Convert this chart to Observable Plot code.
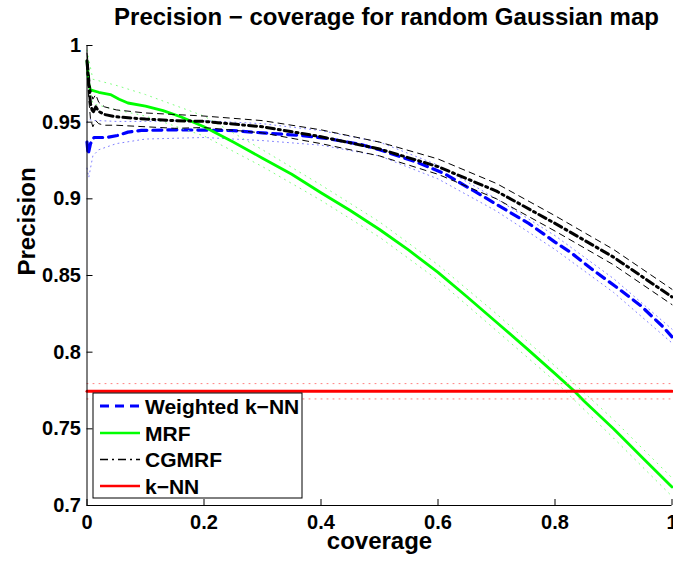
<!DOCTYPE html>
<html><head><meta charset="utf-8">
<script src="https://cdn.jsdelivr.net/npm/d3@7"></script>
<script src="https://cdn.jsdelivr.net/npm/@observablehq/plot@0.6"></script>
<style>
body{margin:0;background:#fff;}
#chart{position:relative;width:673px;height:561px;overflow:hidden;}
</style></head><body><div id="chart"></div>
<script>
const titleText = "Precision − coverage for random Gaussian map";
const xLabel = "coverage";
const yLabel = "Precision";
const xTicks = [0, 0.2, 0.4, 0.6, 0.8, 1];
const xTickLabels = ["0", "0.2", "0.4", "0.6", "0.8", "1"];
const yTicks = [0.7, 0.75, 0.8, 0.85, 0.9, 0.95, 1];
const yTickLabels = ["0.7", "0.75", "0.8", "0.85", "0.9", "0.95", "1"];
const seriesNames = ["Weighted k−NN", "MRF", "CGMRF", "k−NN"];

// Weighted k-NN
const wknnX = [0, 0.002, 0.006, 0.012, 0.033, 0.052, 0.07, 0.093, 0.15, 0.2, 0.25, 0.3, 0.365, 0.41, 0.468, 0.5, 0.565, 0.61, 0.66, 0.703, 0.755, 0.8, 0.826, 0.866, 0.903, 0.946, 0.985, 1.0];
const wknnY = [0.937, 0.929, 0.936, 0.940, 0.940, 0.9413, 0.9435, 0.9446, 0.945, 0.9448, 0.9445, 0.943, 0.9413, 0.9394, 0.9355, 0.932, 0.9237, 0.9166, 0.9055, 0.8957, 0.884, 0.8718, 0.8653, 0.8533, 0.843, 0.8305, 0.8164, 0.81];
const wknnBandX = [0, 0.003, 0.01, 0.02, 0.05, 0.1, 0.2, 0.3, 0.4, 0.5, 0.6, 0.7, 0.8, 0.9, 1.0];
const wknnUpper = [0.950, 0.952, 0.951, 0.951, 0.9505, 0.9505, 0.951, 0.949, 0.9445, 0.937, 0.922, 0.900, 0.876, 0.848, 0.815];
const wknnLower = [0.920, 0.914, 0.928, 0.932, 0.936, 0.939, 0.940, 0.938, 0.935, 0.928, 0.913, 0.892, 0.867, 0.839, 0.806];

// MRF
const mrfX = [0, 0.003, 0.006, 0.02, 0.04, 0.055, 0.07, 0.1, 0.13, 0.16, 0.2, 0.25, 0.3, 0.35, 0.4, 0.45, 0.5, 0.55, 0.6, 0.65, 0.7, 0.75, 0.8, 0.832, 0.85, 0.9, 0.95, 1.0];
const mrfY = [0.99, 0.975, 0.971, 0.9695, 0.968, 0.965, 0.9625, 0.9605, 0.9575, 0.9535, 0.947, 0.937, 0.9265, 0.916, 0.904, 0.8924, 0.880, 0.8665, 0.852, 0.836, 0.8195, 0.803, 0.786, 0.775, 0.768, 0.750, 0.731, 0.712];
const mrfBandX = [0, 0.01, 0.05, 0.1, 0.2, 0.3, 0.4, 0.5, 0.6, 0.7, 0.8, 0.9, 1.0];
const mrfUpper = [0.997, 0.978, 0.974, 0.968, 0.954, 0.932, 0.909, 0.885, 0.857, 0.825, 0.791, 0.756, 0.718];
const mrfLower = [0.983, 0.962, 0.958, 0.954, 0.941, 0.921, 0.899, 0.875, 0.847, 0.814, 0.781, 0.744, 0.706];

// CGMRF
const cgX = [0, 0.003, 0.006, 0.01, 0.015, 0.02, 0.03, 0.05, 0.1, 0.15, 0.2, 0.3, 0.4, 0.5, 0.6, 0.7, 0.8, 0.9, 1.0];
const cgY = [0.99, 0.975, 0.962, 0.956, 0.96, 0.957, 0.955, 0.9535, 0.952, 0.951, 0.9505, 0.947, 0.9405, 0.9325, 0.921, 0.905, 0.884, 0.862, 0.836];
const cgUpper = [0.995, 0.985, 0.972, 0.965, 0.968, 0.963, 0.960, 0.958, 0.956, 0.955, 0.954, 0.951, 0.945, 0.937, 0.926, 0.910, 0.889, 0.867, 0.841];
const cgLower = [0.985, 0.965, 0.952, 0.947, 0.951, 0.949, 0.948, 0.948, 0.947, 0.946, 0.9465, 0.943, 0.936, 0.928, 0.916, 0.900, 0.879, 0.857, 0.831];

// k-NN
const knnX = [0, 1];
const knnY = [0.7745, 0.7745];
const knnUpper = [0.7795, 0.7795];
const knnLower = [0.7695, 0.7695];

const pts = (xs, ys) => xs.map((x, i) => ({x, y: ys[i]}));

const W = 673, H = 561;
const mL = 86.5, mR = 1.5, mT = 45, mB = 56;
const font = "'Liberation Sans', Arial, Helvetica, sans-serif";

const styles = {
  wknn: {stroke: "#0000ff", strokeWidth: 3.2, strokeDasharray: "9,6"},
  wknnBand: {stroke: "#7f7fff", strokeWidth: 1, strokeDasharray: "1,4"},
  mrf: {stroke: "#00ff00", strokeWidth: 2.8},
  mrfBand: {stroke: "#7fff7f", strokeWidth: 1, strokeDasharray: "1,5"},
  cg: {stroke: "#000000", strokeWidth: 3, strokeDasharray: "8,4,2,4"},
  cgBand: {stroke: "#000000", strokeWidth: 1, strokeDasharray: "6,5"},
  knn: {stroke: "#ff0000", strokeWidth: 3},
  knnBand: {stroke: "#ff8080", strokeWidth: 1, strokeDasharray: "1,5"}
};

const plot = Plot.plot({
  width: W, height: H,
  marginLeft: mL, marginRight: mR, marginTop: mT, marginBottom: mB,
  style: {fontFamily: font, fontWeight: "bold", fontSize: "20px", color: "#000", background: "#fff", overflow: "visible"},
  x: {domain: [xTicks[0], xTicks[xTicks.length - 1]]},
  y: {domain: [yTicks[0], yTicks[yTicks.length - 1]]},
  marks: [
    Plot.line(pts(wknnBandX, wknnUpper), {x: "x", y: "y", ...styles.wknnBand}),
    Plot.line(pts(wknnBandX, wknnLower), {x: "x", y: "y", ...styles.wknnBand}),
    Plot.line(pts(wknnX, wknnY), {x: "x", y: "y", ...styles.wknn}),
    Plot.line(pts(mrfBandX, mrfUpper), {x: "x", y: "y", ...styles.mrfBand}),
    Plot.line(pts(mrfBandX, mrfLower), {x: "x", y: "y", ...styles.mrfBand}),
    Plot.line(pts(mrfX, mrfY), {x: "x", y: "y", ...styles.mrf}),
    Plot.line(pts(cgX, cgUpper), {x: "x", y: "y", ...styles.cgBand}),
    Plot.line(pts(cgX, cgLower), {x: "x", y: "y", ...styles.cgBand}),
    Plot.line(pts(cgX, cgY), {x: "x", y: "y", ...styles.cg}),
    Plot.line(pts(knnX, knnUpper), {x: "x", y: "y", ...styles.knnBand}),
    Plot.line(pts(knnX, knnLower), {x: "x", y: "y", ...styles.knnBand}),
    Plot.line(pts(knnX, knnY), {x: "x", y: "y", ...styles.knn}),
    // axes
    Plot.axisX(xTicks, {tickSize: 0, tickPadding: 9, tickFormat: (d, i) => xTickLabels[i], label: null, fontSize: 20}),
    Plot.axisY(yTicks, {tickSize: 0, tickPadding: 6, tickFormat: (d, i) => yTickLabels[i], label: null, fontSize: 20}),
    Plot.tickX(xTicks, {x: d => d, stroke: "#000", strokeWidth: 1, insetTop: H - mT - mB - 6}),
    Plot.tickY(yTicks, {y: d => d, stroke: "#000", strokeWidth: 1, insetRight: W - mL - mR - 6}),
    Plot.ruleX([xTicks[0]], {stroke: "#000", strokeWidth: 1}),
    Plot.ruleY([yTicks[0]], {stroke: "#000", strokeWidth: 1}),
    // texts
    Plot.text([titleText], {frameAnchor: "top", dy: -28, dx: 7, lineAnchor: "middle", fontSize: 24, fontWeight: "bold"}),
    Plot.text([xLabel], {frameAnchor: "bottom", dy: 36, dx: 0, lineAnchor: "middle", fontSize: 24, fontWeight: "bold"}),
    Plot.text([yLabel], {frameAnchor: "left", dx: -60, rotate: -90, lineAnchor: "middle", fontSize: 24, fontWeight: "bold"})
  ]
});

// Legend (MATLAB-style box)
const svg = d3.select(plot);
const lg = svg.append("g").attr("font-family", font).attr("font-weight", "bold").attr("font-size", 21).attr("text-anchor", "start");
const bx = 93, by = 393, bw = 209, bh = 105;
lg.append("rect").attr("x", bx).attr("y", by).attr("width", bw).attr("height", bh)
  .attr("fill", "#fff").attr("stroke", "#000").attr("stroke-width", 1);
const legStyles = [styles.wknn, styles.mrf, styles.cg, styles.knn];
const rowY = [406, 433, 459.5, 486];
seriesNames.forEach((name, i) => {
  const s = legStyles[i];
  lg.append("line").attr("x1", 100).attr("x2", 140).attr("y1", rowY[i]).attr("y2", rowY[i])
    .attr("stroke", s.stroke).attr("stroke-width", i === 2 ? 1.5 : s.strokeWidth * 0.9)
    .attr("stroke-dasharray", i === 2 ? "8,4,2,4" : (s.strokeDasharray || null));
  lg.append("text").attr("x", 145).attr("y", rowY[i]).attr("dy", "0.36em").attr("text-anchor", "start").attr("fill", "#000").text(name);
});

document.getElementById("chart").appendChild(plot);
</script>
</body></html>
